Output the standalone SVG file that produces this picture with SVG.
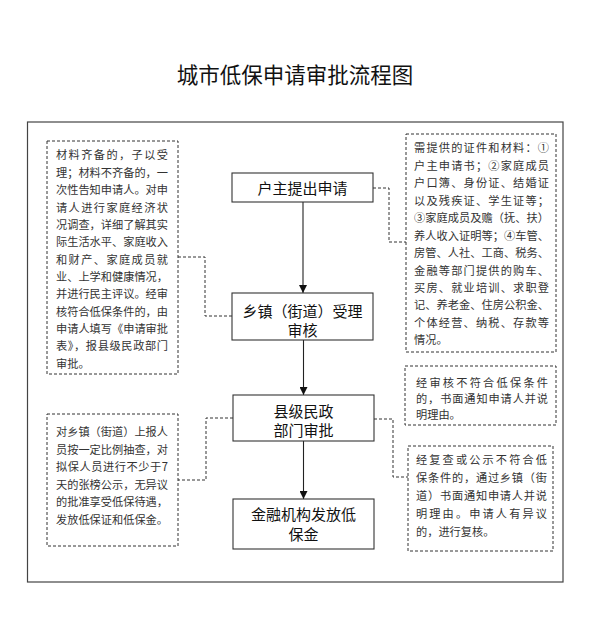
<svg xmlns="http://www.w3.org/2000/svg" width="591" height="644" viewBox="0 0 591 644">
<style>
.title{font-family:"Noto Sans CJK SC","Noto Sans",sans-serif;font-size:21.5px;fill:#111;text-anchor:middle}
.node rect{fill:#fff;stroke:#333;stroke-width:1.1}
.node text{font-family:"Noto Sans CJK SC","Noto Sans",sans-serif;font-size:15px;fill:#111;text-anchor:middle}
.note rect{fill:#fff;stroke:#333;stroke-width:1;stroke-dasharray:3 2}
.note text{font-family:"Noto Sans CJK SC","Noto Sans",sans-serif;font-size:11.2px;fill:#333}
.flow{stroke:#222;stroke-width:1.1;fill:none}
.dash{stroke:#333;stroke-width:1;fill:none;stroke-dasharray:3 2}
</style>
<defs>
<marker id="arr" viewBox="0 0 10 10" refX="10" refY="5" markerWidth="8" markerHeight="8" markerUnits="userSpaceOnUse" orient="auto">
<path d="M0,0 L10,5 L0,10 z" fill="#111"/>
</marker>
</defs>
<rect width="591" height="644" fill="#fff"/>
<text class="title" x="295" y="83">城市低保申请审批流程图</text>
<rect x="27.5" y="122" width="535.5" height="460" fill="none" stroke="#444" stroke-width="1.2"/>

<g id="connectors">
<path class="flow" d="M303,202 V293" marker-end="url(#arr)"/>
<path class="flow" d="M303.5,340 V395" marker-end="url(#arr)"/>
<path class="flow" d="M303.5,441 V499" marker-end="url(#arr)"/>
<path class="dash" d="M373,188 H389 V242 H406"/>
<path class="dash" d="M232,316 H205 V257 H178"/>
<path class="dash" d="M233,418 H206 V480 H178"/>
<path class="dash" d="M374,419 H393 V477 H408"/>
</g>

<g id="n1" class="node">
<rect x="232" y="173" width="141" height="29"/>
<text x="302.5" y="193.5" font-size="15.5">户主提出申请</text>
</g>
<g id="n2" class="node">
<rect x="232" y="293" width="141" height="47"/>
<text x="302.5" y="316.5">乡镇（街道）受理</text>
<text x="302.5" y="335.5">审核</text>
</g>
<g id="n3" class="node">
<rect x="233" y="395" width="141" height="46"/>
<text x="303.5" y="416.5">县级民政</text>
<text x="303.5" y="436">部门审批</text>
</g>
<g id="n4" class="node">
<rect x="233" y="499" width="141" height="50"/>
<text x="303.5" y="520">金融机构发放低</text>
<text x="303.5" y="540">保金</text>
</g>

<g id="note-left-top" class="note">
<rect x="47" y="141" width="131" height="233"/>
<text x="56" y="159.4" textLength="112" lengthAdjust="spacing">材料齐备的，子以受</text>
<text x="56" y="176.8" textLength="112" lengthAdjust="spacing">理；材料不齐备的，一</text>
<text x="56" y="194.1" textLength="112" lengthAdjust="spacing">次性告知申请人。对申</text>
<text x="56" y="211.5" textLength="112" lengthAdjust="spacing">请人进行家庭经济状</text>
<text x="56" y="228.8" textLength="112" lengthAdjust="spacing">况调查，详细了解其实</text>
<text x="56" y="246.2" textLength="112" lengthAdjust="spacing">际生活水平、家庭收入</text>
<text x="56" y="263.5" textLength="112" lengthAdjust="spacing">和财产、家庭成员就</text>
<text x="56" y="280.9" textLength="112" lengthAdjust="spacing">业、上学和健康情况，</text>
<text x="56" y="298.2" textLength="112" lengthAdjust="spacing">并进行民主评议。经审</text>
<text x="56" y="315.6" textLength="112" lengthAdjust="spacing">核符合低保条件的，由</text>
<text x="56" y="332.9" textLength="112" lengthAdjust="spacing">申请人填写《申请审批</text>
<text x="56" y="350.3" textLength="112" lengthAdjust="spacing">表》，报县级民政部门</text>
<text x="56" y="367.6">审批。</text>
</g>

<g id="note-right-top" class="note">
<rect x="406" y="134" width="150" height="218"/>
<text x="414" y="152.4" textLength="135" lengthAdjust="spacing">需提供的证件和材料：①</text>
<text x="414" y="169.8" textLength="135" lengthAdjust="spacing">户主申请书；②家庭成员</text>
<text x="414" y="187.3" textLength="135" lengthAdjust="spacing">户口簿、身份证、结婚证</text>
<text x="414" y="204.7" textLength="135" lengthAdjust="spacing">以及残疾证、学生证等；</text>
<text x="414" y="222.2" textLength="135" lengthAdjust="spacing">③家庭成员及赡（抚、扶）</text>
<text x="414" y="239.6" textLength="135" lengthAdjust="spacing">养人收入证明等；④车管、</text>
<text x="414" y="257.1" textLength="135" lengthAdjust="spacing">房管、人社、工商、税务、</text>
<text x="414" y="274.5" textLength="135" lengthAdjust="spacing">金融等部门提供的购车、</text>
<text x="414" y="292" textLength="135" lengthAdjust="spacing">买房、就业培训、求职登</text>
<text x="414" y="309.4" textLength="135" lengthAdjust="spacing">记、养老金、住房公积金、</text>
<text x="414" y="326.9" textLength="135" lengthAdjust="spacing">个体经营、纳税、存款等</text>
<text x="414" y="344.3">情况。</text>
</g>

<g id="note-right-mid" class="note">
<rect x="405" y="366" width="151" height="59"/>
<text x="416" y="387.4" textLength="132" lengthAdjust="spacing">经审核不符合低保条件</text>
<text x="416" y="403" textLength="132" lengthAdjust="spacing">的，书面通知申请人并说</text>
<text x="416" y="418.8">明理由。</text>
</g>

<g id="note-right-bottom" class="note">
<rect x="408" y="446" width="145" height="105"/>
<text x="416" y="463.8" textLength="131" lengthAdjust="spacing">经复查或公示不符合低</text>
<text x="416" y="481.6" textLength="131" lengthAdjust="spacing">保条件的，通过乡镇（街</text>
<text x="416" y="500.2" textLength="131" lengthAdjust="spacing">道）书面通知申请人并说</text>
<text x="416" y="518" textLength="131" lengthAdjust="spacing">明理由。申请人有异议</text>
<text x="416" y="536">的，进行复核。</text>
</g>

<g id="note-left-bottom" class="note">
<rect x="47" y="414" width="131" height="132"/>
<text x="56" y="436.4" textLength="112" lengthAdjust="spacing">对乡镇（街道）上报人</text>
<text x="56" y="453.9" textLength="112" lengthAdjust="spacing">员按一定比例抽查，对</text>
<text x="56" y="471.4" textLength="112" lengthAdjust="spacing">拟保人员进行不少于7</text>
<text x="56" y="488.9" textLength="112" lengthAdjust="spacing">天的张榜公示，无异议</text>
<text x="56" y="506.4" textLength="112" lengthAdjust="spacing">的批准享受低保待遇，</text>
<text x="56" y="523.9" textLength="112" lengthAdjust="spacing">发放低保证和低保金。</text>
</g>
</svg>
